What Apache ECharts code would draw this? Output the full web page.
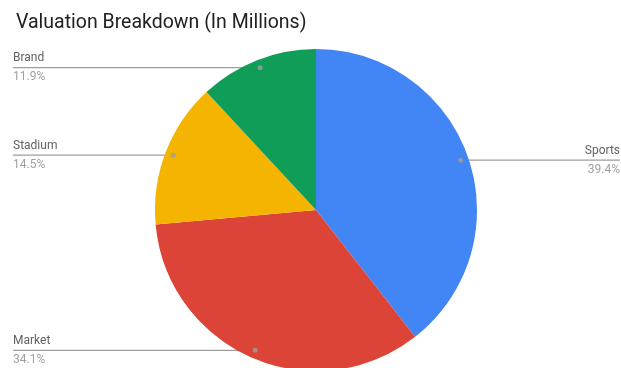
<!DOCTYPE html>
<html>
<head>
<meta charset="utf-8">
<script src="https://cdn.jsdelivr.net/npm/echarts@6/dist/echarts.min.js"></script>
<style>html,body{margin:0;padding:0;background:#fff;}#main{width:621px;height:368px;}</style>
</head>
<body>
<div id="main"></div>
<script>
var titleText = 'Valuation Breakdown (In Millions)';
var categories = ['Sports', 'Market', 'Stadium', 'Brand'];
var values = [39.4, 34.1, 14.5, 11.9];
var colors = ['#4285F4', '#DB4437', '#F4B400', '#0F9D58'];

var CX = 316, CY = 210, R = 161, DOT = 0.95;
var chart = echarts.init(document.getElementById('main'), null, {renderer: 'canvas'});

var total = values.reduce(function (a, b) { return a + b; }, 0);
var cum = 0;
var dots = values.map(function (v) { var m = cum + v / 2; cum += v; return [DOT, m]; });

var option = {
  animation: false,
  title: {
    text: titleText, left: 11, top: 8,
    textStyle: {fontFamily: 'Roboto', fontSize: 19.5, fontWeight: 'normal', color: '#212121'}
  },
  polar: {center: [CX, CY], radius: R},
  angleAxis: {type: 'value', min: 0, max: total, startAngle: 90, clockwise: true, show: false},
  radiusAxis: {type: 'value', min: 0, max: 1, show: false},
  series: [{
    type: 'pie',
    center: [CX, CY],
    radius: R,
    startAngle: 90,
    clockwise: true,
    z: 2,
    data: categories.map(function (c, i) {
      return {name: c, value: values[i], itemStyle: {color: colors[i]}};
    }),
    label: {
      show: true, position: 'outside',
      formatter: function (p) { return '{n|' + p.name + '}\n{p|' + p.percent.toFixed(1) + '%}'; },
      rich: {
        n: {fontFamily: 'Roboto', fontSize: 12, color: '#616161', lineHeight: 19},
        p: {fontFamily: 'Roboto', fontSize: 12, color: '#a0a0a0', lineHeight: 19}
      }
    },
    labelLine: {show: true, length: 5, length2: 5, lineStyle: {color: '#9e9e9e', width: 1.2}},
    labelLayout: function (params) {
      var p0 = params.labelLinePoints[0];
      var dx = CX + (p0[0] - CX) * DOT;
      var dy = CY + (p0[1] - CY) * DOT;
      var left = dx < CX;
      var ex = left ? 13 : 620;
      return {
        x: ex, y: dy,
        align: left ? 'left' : 'right',
        verticalAlign: 'middle',
        labelLinePoints: [[dx, dy], [dx, dy], [ex, dy]]
      };
    },
    emphasis: {disabled: true}
  }, {
    type: 'scatter',
    coordinateSystem: 'polar',
    z: 10,
    symbolSize: 5,
    silent: true,
    itemStyle: {color: '#9e9e9e'},
    data: dots
  }]
};
chart.setOption(option);
</script>
</body>
</html>
